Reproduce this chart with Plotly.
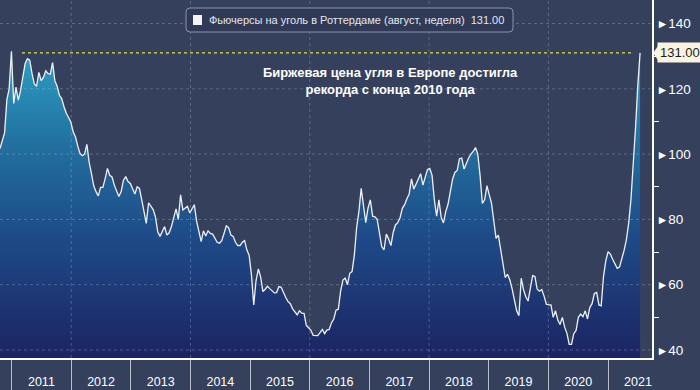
import plotly.graph_objects as go
import pandas as pd

# Weekly-style coal futures series (read every ~2 weeks from the picture)
VALUES = [
    101.7, 104.5, 106.5, 116.6, 120.0, 131.5, 115.5, 120.5, 116.5, 119.5,
    124.0, 127.8, 129.2, 128.8, 124.7, 121.5, 120.8, 125.0, 122.5, 123.5,
    125.5, 124.7, 124.5, 128.0, 122.5, 120.8, 118.0, 117.0, 114.5, 112.5,
    111.2, 109.8, 106.8, 105.3, 102.5, 100.2, 99.5, 100.0, 103.0, 97.5,
    94.0, 90.3, 88.5, 87.2, 89.8, 89.8, 92.5, 95.6, 93.5, 93.0,
    90.5, 88.6, 87.0, 88.5, 92.0, 93.1, 91.6, 91.0, 89.5, 87.8,
    90.0, 89.5, 86.0, 81.8, 78.8, 85.1, 84.2, 83.0, 80.8, 76.2,
    74.8, 76.5, 77.8, 75.2, 75.9, 77.8, 81.0, 83.2, 80.0, 87.5,
    82.9, 83.5, 84.0, 82.0, 83.4, 84.5, 79.5, 76.6, 73.2, 76.5,
    74.9, 76.5, 75.7, 75.5, 74.2, 73.0, 72.7, 73.5, 75.7, 78.0,
    77.5, 75.2, 74.8, 73.0, 72.0, 72.0, 73.0, 73.5, 70.6, 69.0,
    63.0, 53.8, 61.2, 64.8, 62.5, 57.9, 58.6, 59.5, 58.8, 58.2,
    57.5, 57.6, 59.4, 59.2, 57.4, 56.1, 54.8, 54.2, 52.6, 51.7,
    50.8, 52.0, 51.3, 51.2, 47.5, 46.8, 46.0, 44.5, 44.5, 44.4,
    45.3, 46.3, 45.0, 46.1, 46.3, 48.3, 49.5, 52.2, 52.5, 58.0,
    61.4, 62.0, 60.0, 63.5, 64.0, 69.0, 77.5, 82.4, 89.5, 83.5,
    79.0, 83.5, 86.0, 81.0, 80.8, 80.0, 76.0, 71.6, 70.7, 75.5,
    74.0, 72.0, 76.0, 78.3, 79.0, 80.5, 83.4, 84.5, 86.3, 87.8,
    92.4, 89.3, 90.8, 92.7, 94.0, 90.5, 92.6, 95.3, 95.6, 93.5,
    86.0, 81.0, 86.0, 80.6, 78.9, 82.4, 84.7, 89.2, 92.4, 94.4,
    95.0, 98.6, 98.8, 95.4, 97.2, 98.8, 100.0, 100.8, 102.0, 100.0,
    93.5, 84.9, 86.0, 90.3, 87.6, 85.0, 79.6, 74.2, 75.2, 70.5,
    66.6, 62.2, 63.2, 61.5, 58.8, 54.8, 52.0, 50.5, 62.0, 58.5,
    56.3, 55.0, 59.5, 62.8, 62.5, 58.6, 58.0, 58.5, 56.5, 54.0,
    53.8, 53.8, 50.0, 52.0, 49.2, 47.8, 50.0, 47.0, 45.1, 41.7,
    41.7, 45.0, 46.0, 50.0, 51.0, 50.2, 52.0, 49.5, 53.0, 54.2,
    57.3, 57.6, 53.8, 53.5, 62.5, 67.3, 70.1, 69.4, 67.8, 66.5,
    65.0, 65.4, 67.8, 70.5, 73.7, 78.8, 86.0, 96.0, 108.0, 121.0,
    131.0,
]
START_DATE = "2010-10-22"
DATES = pd.date_range(START_DATE, periods=len(VALUES), freq="14D")

X_RANGE = ["2010-10-22", "2021-09-27"]
Y_RANGE = [37.55, 147.2]
Y_TICKS = [40, 60, 80, 100, 120, 140]
Y_MINOR = [50, 70, 90, 110, 130]
GRID_YEARS = [2012, 2014, 2016, 2018, 2020]

SERIES_NAME = "Фьючерсы на уголь в Роттердаме (август, неделя)"
HEADLINE = "Биржевая цена угля в Европе достигла<br>рекорда с конца 2010 года"

LAST = VALUES[-1]

W, H = 700, 390
ML, MR, MT, MB = 0, 48, 0, 32
PW, PH = W - ML - MR, H - MT - MB
Y_PER_PX = (Y_RANGE[1] - Y_RANGE[0]) / PH


def px_x(p):
    return p / PW


def px_y(p):
    return 1 - p / PH


BG = "#35405d"
FONT = "Liberation Sans, Arial, sans-serif"
CALLOUT = "#fbf3e2"

fig = go.Figure()
fig.add_trace(go.Scatter(
    x=DATES, y=VALUES, mode="lines",
    line=dict(color="#eef0f5", width=1.3),
    fill="tozeroy",
    fillgradient=dict(
        type="vertical",
        start=Y_RANGE[0], stop=LAST,
        colorscale=[[0.0, "#1c2462"], [0.4, "#1e4b88"],
                    [0.7, "#22709f"], [1.0, "#2c9fc2"]],
    ),
    hoverinfo="skip", showlegend=False,
))

shapes = []
grid_line = dict(color="rgba(200,210,235,0.28)", width=1, dash="dot")
for yv in Y_TICKS:
    shapes.append(dict(type="line", xref="paper", yref="y", x0=0, x1=1,
                       y0=yv, y1=yv, line=grid_line, layer="above"))
for yr in GRID_YEARS:
    d = f"{yr}-01-01"
    shapes.append(dict(type="line", xref="x", yref="paper", x0=d, x1=d,
                       y0=0, y1=1, line=grid_line, layer="above"))

# yellow reference line at latest value
shapes.append(dict(type="line", xref="paper", yref="y",
                   x0=px_x(22), x1=px_x(633), y0=LAST, y1=LAST,
                   line=dict(color="#e6e23a", width=1.2, dash="dot"),
                   layer="above"))

# legend box (rounded)
x0, x1 = px_x(186), px_x(513)
yt, yb = px_y(8), px_y(32)
rx, ry = 4 / PW, 4 / PH
path = (f"M {x0+rx},{yt} L {x1-rx},{yt} Q {x1},{yt} {x1},{yt-ry} "
        f"L {x1},{yb+ry} Q {x1},{yb} {x1-rx},{yb} L {x0+rx},{yb} "
        f"Q {x0},{yb} {x0},{yb+ry} L {x0},{yt-ry} Q {x0},{yt} {x0+rx},{yt} Z")
shapes.append(dict(type="path", xref="paper", yref="paper", path=path,
                   fillcolor="#303a56", line=dict(color="#8a93aa", width=1),
                   layer="above"))
shapes.append(dict(type="rect", xref="paper", yref="paper",
                   x0=px_x(193), x1=px_x(202), y0=px_y(25), y1=px_y(15),
                   fillcolor="#f4f4f4", line=dict(width=0), layer="above"))

# pointer of the last-value callout
tip = 1 + 1 / PW
base = 1 + 6 / PW
dy = 7 * Y_PER_PX
shapes.append(dict(type="path", xref="paper", yref="y",
                   path=f"M {tip},{LAST} L {base},{LAST+dy} L {base},{LAST-dy} Z",
                   fillcolor=CALLOUT, line=dict(width=0), layer="above"))

annotations = [
    dict(xref="paper", yref="paper", x=px_x(207), y=px_y(20.5),
         xanchor="left", yanchor="middle", showarrow=False,
         text=f"{SERIES_NAME}  {LAST:.2f}",
         font=dict(family=FONT, size=11, color="#e4e6ec")),
    dict(xref="paper", yref="paper", x=px_x(390), y=px_y(81),
         xanchor="center", yanchor="middle", showarrow=False,
         text=f"<b>{HEADLINE}</b>",
         font=dict(family=FONT, size=13, color="white")),
    dict(xref="paper", yref="y", x=1, y=LAST, xanchor="left",
         yanchor="middle", xshift=5, showarrow=False,
         text=f"{LAST:.2f}", bgcolor=CALLOUT, borderpad=2,
         font=dict(family=FONT, size=13, color="#1c1c1c")),
]

fig.update_layout(
    width=W, height=H,
    margin=dict(l=ML, r=MR, t=MT, b=MB, autoexpand=False),
    paper_bgcolor=BG, plot_bgcolor=BG,
    shapes=shapes, annotations=annotations,
    showlegend=False,
    xaxis=dict(
        type="date", range=X_RANGE, showgrid=False, zeroline=False,
        automargin=False,
        tickmode="linear", tick0="2011-01-01", dtick="M12",
        ticklabelmode="period", tickformat="%Y",
        ticks="outside", ticklen=32, tickwidth=1, tickcolor="#b9bfcc",
        ticklabelstandoff=-21,
        showline=True, linecolor="white", linewidth=1.5,
        tickfont=dict(family=FONT, size=12.5, color="white"),
    ),
    yaxis=dict(
        side="right", range=Y_RANGE, showgrid=False, zeroline=False,
        automargin=False,
        tickmode="array", tickvals=Y_TICKS,
        ticktext=[f"<span style='font-size:12px'>►</span>{v}" for v in Y_TICKS],
        ticks="", showline=True, linecolor="white", linewidth=1.5,
        tickfont=dict(family=FONT, size=13.5, color="white"),
        minor=dict(tickmode="array", tickvals=Y_MINOR, ticks="outside",
                   ticklen=5, tickcolor="white", tickwidth=1, showgrid=False),
    ),
)

fig.write_html(
    "out.html",
    config={"displayModeBar": False},
    post_script="document.body.style.margin='0px';document.body.style.padding='0px';",
)
